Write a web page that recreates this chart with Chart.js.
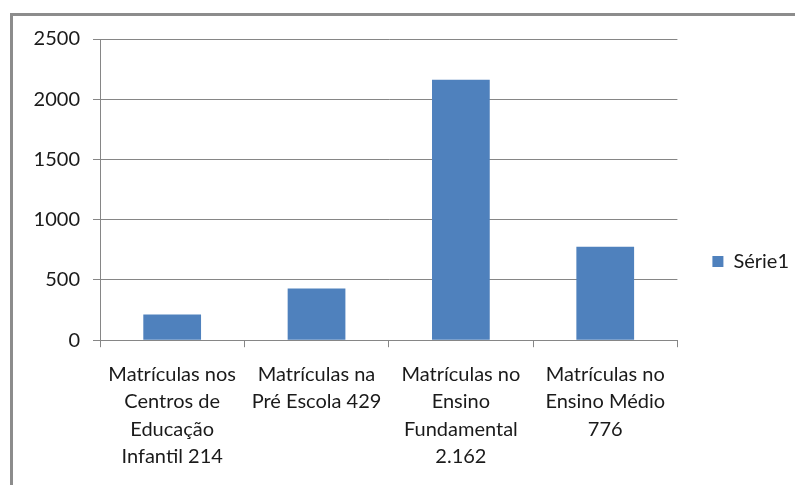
<!DOCTYPE html>
<html lang="pt">
<head>
    <meta charset="UTF-8" />
    <title>Matrículas</title>
    <script src="https://cdn.jsdelivr.net/npm/chart.js@4"></script>
    <style>
        html, body { margin: 0; padding: 0; background: #fff; }
        .frame {
            position: absolute; left: 10px; top: 13px;
            width: 820px; height: 500px;
            border-left: 3px solid #8c8c8c;
            border-top: 3px solid #8c8c8c;
        }
        .wrap { position: absolute; left: 0; top: 0; width: 795px; height: 485px; }
    </style>
</head>
<body>
    <div class="frame"></div>
    <div class="wrap"><canvas id="chart"></canvas></div>

    <script>
        // data
        const categories = [
            ['Matrículas nos', 'Centros de', 'Educação', 'Infantil 214'],
            ['Matrículas na', 'Pré Escola 429'],
            ['Matrículas no', 'Ensino', 'Fundamental', '2.162'],
            ['Matrículas no', 'Ensino Médio', '776']
        ];
        const serie1 = [214, 429, 2162, 776];
        const yTicks = [0, 500, 1000, 1500, 2000, 2500];

        const family = 'Lato, "Open Sans", sans-serif';
        const gridColor = '#868686';
        const textColor = '#1a1a1a';

        new Chart(document.getElementById('chart'), {
            type: 'bar',
            data: {
                labels: categories,
                datasets: [{
                    label: 'Série1',
                    data: serie1,
                    backgroundColor: '#4f81bd',
                    categoryPercentage: 1,
                    barPercentage: 0.4
                }]
            },
            options: {
                responsive: true,
                maintainAspectRatio: false,
                animation: false,
                layout: { padding: { top: 39, left: 0, right: -4, bottom: 1 } },
                plugins: {
                    tooltip: { enabled: false },
                    legend: {
                        position: 'right',
                        labels: {
                            boxWidth: 11, boxHeight: 11,
                            padding: 35,
                            color: textColor,
                            font: { family: family, size: 20 }
                        }
                    }
                },
                scales: {
                    x: {
                        grid: { drawOnChartArea: false, offset: true, tickLength: 7, color: gridColor },
                        border: { color: gridColor },
                        ticks: {
                            color: textColor,
                            font: { family: family, size: 20, lineHeight: 1.36 },
                            padding: 14, maxRotation: 0, autoSkip: false
                        }
                    },
                    y: {
                        min: yTicks[0],
                        max: yTicks[yTicks.length - 1],
                        afterFit: s => { s.width = 100; },
                        afterBuildTicks: s => { s.ticks = yTicks.map(v => ({ value: v })); },
                        grid: { color: gridColor, tickLength: 7 },
                        border: { color: gridColor },
                        ticks: {
                            color: textColor,
                            font: { family: family, size: 20 },
                            padding: 13,
                            callback: v => String(v)
                        }
                    }
                }
            }
        });
    </script>
</body>
</html>
